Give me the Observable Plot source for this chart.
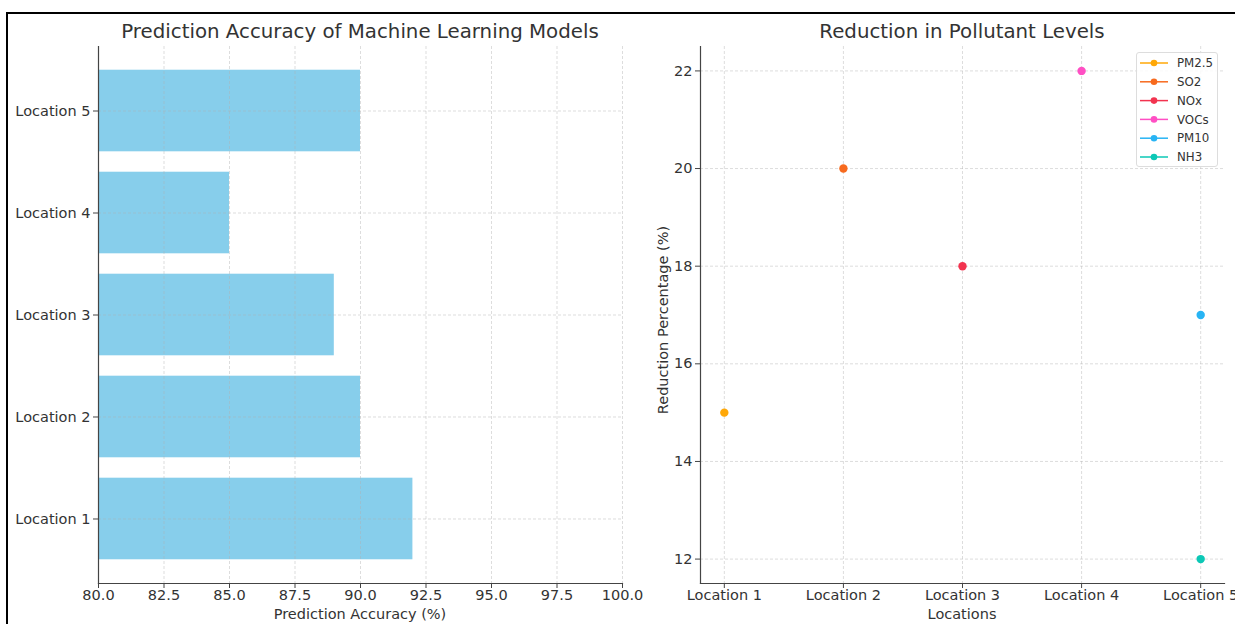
<!DOCTYPE html>
<html>
<head>
<meta charset="utf-8">
<script src="https://cdn.jsdelivr.net/npm/d3@7"></script>
<script src="https://cdn.jsdelivr.net/npm/@observablehq/plot@0.6"></script>
<style>
  html, body { margin: 0; padding: 0; background: #fff; width: 1235px; height: 624px; overflow: hidden; }
  body { position: relative; font-family: "DejaVu Sans", sans-serif; color: #333; }
  .abs { position: absolute; }
  .border { left: 6px; top: 12px; width: 3000px; height: 3000px; border-top: 2px solid #000; border-left: 2px solid #000; }
  .title { font-size: 19.8px; color: #333; transform: translate(-50%, -50%); white-space: nowrap; }
  .lab { font-size: 14.5px; color: #333; transform: translate(-50%, -50%); white-space: nowrap; }
  .legend { left: 1136px; top: 52px; width: 82px; height: 115px; border: 1px solid #ddd; border-radius: 3px; background: rgba(255,255,255,0.85); box-sizing: border-box; }
  .legend svg { display: block; }
</style>
</head>
<body>
<div class="abs border"></div>
<div id="left" class="abs" style="left:0;top:0"></div>
<div id="right" class="abs" style="left:640px;top:0"></div>
<div class="abs title" style="left:360px;top:31px">Prediction Accuracy of Machine Learning Models</div>
<div class="abs title" style="left:962px;top:31px">Reduction in Pollutant Levels</div>
<div class="abs lab" style="left:360px;top:614px">Prediction Accuracy (%)</div>
<div class="abs lab" style="left:962px;top:614px">Locations</div>
<div class="abs lab" style="left:663px;top:320px;transform:translate(-50%,-50%) rotate(-90deg)">Reduction Percentage (%)</div>
<div id="legend" class="abs legend"></div>
<script>
// Left chart data
const locations = ["Location 1", "Location 2", "Location 3", "Location 4", "Location 5"];
const accuracy = [92, 90, 89, 85, 90];
const accuracyTicks = [80, 82.5, 85, 87.5, 90, 92.5, 95, 97.5, 100];

// Right chart data
const pollutants = ["PM2.5", "SO2", "NOx", "VOCs", "PM10", "NH3"];
const pollutantLocations = ["Location 1", "Location 2", "Location 3", "Location 4", "Location 5", "Location 5"];
const reductions = [15, 20, 18, 22, 17, 12];
const pollutantColors = ["#ffa808", "#f76a1e", "#f2334f", "#ff4fc4", "#28b4f4", "#0cc8b6"];
const reductionTicks = [12, 14, 16, 18, 20, 22];

const barData = locations.map((l, i) => ({location: l, value: accuracy[i]}));
const ptData = pollutants.map((p, i) => ({pollutant: p, location: pollutantLocations[i], value: reductions[i]}));

const gridStyle = {stroke: "#b0b0b0", strokeOpacity: 0.55, strokeDasharray: "3,2", strokeWidth: 0.8};
const spine = {stroke: "#444", strokeWidth: 1.2};
const FS = 14.5;

const left = Plot.plot({
  width: 640, height: 624,
  marginLeft: 98, marginRight: 18, marginTop: 46, marginBottom: 41,
  style: {fontFamily: "DejaVu Sans", fontSize: FS + "px", color: "#333", background: "transparent", overflow: "visible"},
  x: {domain: [80, 100], label: null},
  y: {type: "band", domain: locations.slice().reverse(), paddingInner: 0.2, paddingOuter: 0.2325, round: false, label: null},
  marks: [
    Plot.barX(barData, {y: "location", x1: 80, x2: "value", fill: "#87ceeb"}),
    Plot.gridX(accuracyTicks, gridStyle),
    Plot.gridY(locations, gridStyle),
    Plot.axisX(accuracyTicks, {tickFormat: d3.format(".1f"), tickSize: 5, tickPadding: 1, fontSize: FS, label: null, stroke: "#444"}),
    Plot.axisY(locations, {tickSize: 5, tickPadding: 3, fontSize: FS, label: null, stroke: "#444"}),
    Plot.frame({anchor: "left", ...spine}),
    Plot.frame({anchor: "bottom", ...spine})
  ]
});
document.getElementById("left").appendChild(left);

const right = Plot.plot({
  width: 595, height: 624,
  marginLeft: 60, marginRight: 11, marginTop: 46, marginBottom: 41,
  style: {fontFamily: "DejaVu Sans", fontSize: FS + "px", color: "#333", background: "transparent", overflow: "visible"},
  x: {type: "point", domain: locations, padding: 0.2, round: false, label: null},
  y: {domain: [11.5, 22.5], label: null},
  color: {domain: pollutants, range: pollutantColors},
  marks: [
    Plot.gridX(locations, gridStyle),
    Plot.gridY(reductionTicks, gridStyle),
    Plot.dot(ptData, {x: "location", y: "value", fill: "pollutant", r: 4.2}),
    Plot.axisX(locations, {tickSize: 5, tickPadding: 1, fontSize: FS, label: null, stroke: "#444"}),
    Plot.axisY(reductionTicks, {tickSize: 5, tickPadding: 3, fontSize: FS, label: null, stroke: "#444"}),
    Plot.frame({anchor: "left", ...spine}),
    Plot.frame({anchor: "bottom", ...spine})
  ]
});
document.getElementById("right").appendChild(right);

// Legend
const leg = d3.select("#legend").append("svg").attr("width", 80).attr("height", 113);
pollutants.forEach((p, i) => {
  const y = 10 + i * 18.8;
  const g = leg.append("g");
  g.append("line").attr("x1", 3).attr("x2", 31).attr("y1", y).attr("y2", y)
    .attr("stroke", pollutantColors[i]).attr("stroke-width", 1.5);
  g.append("circle").attr("cx", 17).attr("cy", y).attr("r", 3.3).attr("fill", pollutantColors[i]);
  g.append("text").attr("x", 40).attr("y", y).attr("dy", "0.35em")
    .attr("font-family", "DejaVu Sans").attr("font-size", 11.8).attr("fill", "#333").text(p);
});
</script>
</body>
</html>
